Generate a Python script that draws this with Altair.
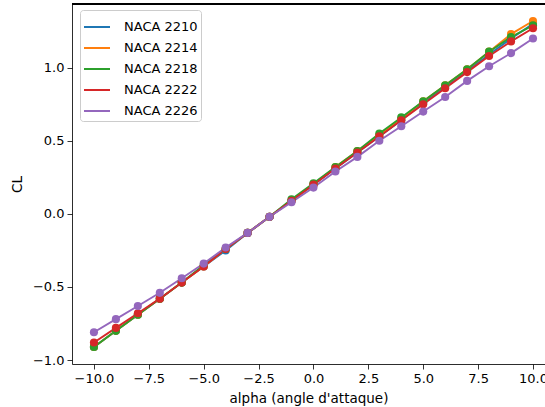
import altair as alt
import pandas as pd

alpha = [-10, -9, -8, -7, -6, -5, -4, -3, -2, -1, 0, 1, 2, 3, 4, 5, 6, 7, 8, 9, 10]

naca_2210 = [-0.91, -0.80, -0.69, -0.58, -0.47, -0.36, -0.25, -0.13, -0.02, 0.09, 0.20,
             0.31, 0.42, 0.53, 0.64, 0.76, 0.87, 0.98, 1.09, 1.20, 1.30]
naca_2214 = [-0.91, -0.80, -0.69, -0.58, -0.47, -0.36, -0.24, -0.13, -0.02, 0.09, 0.20,
             0.32, 0.43, 0.54, 0.65, 0.77, 0.88, 0.99, 1.11, 1.23, 1.32]
naca_2218 = [-0.91, -0.80, -0.69, -0.58, -0.47, -0.35, -0.24, -0.13, -0.02, 0.10, 0.21,
             0.32, 0.43, 0.55, 0.66, 0.77, 0.88, 0.99, 1.11, 1.21, 1.29]
naca_2222 = [-0.88, -0.78, -0.68, -0.58, -0.47, -0.36, -0.24, -0.13, -0.02, 0.09, 0.20,
             0.31, 0.42, 0.53, 0.64, 0.75, 0.86, 0.97, 1.08, 1.18, 1.27]
naca_2226 = [-0.81, -0.72, -0.63, -0.54, -0.44, -0.34, -0.23, -0.13, -0.02, 0.08, 0.18,
             0.29, 0.39, 0.50, 0.60, 0.70, 0.80, 0.91, 1.01, 1.10, 1.20]

series_names = ["NACA 2210", "NACA 2214", "NACA 2218", "NACA 2222", "NACA 2226"]
series_values = [naca_2210, naca_2214, naca_2218, naca_2222, naca_2226]
colors = ["#1f77b4", "#ff7f0e", "#2ca02c", "#d62728", "#9467bd"]

x_ticks = [-10.0, -7.5, -5.0, -2.5, 0.0, 2.5, 5.0, 7.5, 10.0]
y_ticks = [-1.0, -0.5, 0.0, 0.5, 1.0]

rows = []
for i, (name, vals) in enumerate(zip(series_names, series_values)):
    for a, v in zip(alpha, vals):
        rows.append({"alpha": a, "CL": v, "profil": name, "k": i})
df = pd.DataFrame(rows)

W, H = 473, 360
FONT = "DejaVu Sans"

x = alt.X("alpha:Q", title="alpha (angle d'attaque)",
          scale=alt.Scale(domain=[-11, 10.547], nice=False, zero=False),
          axis=alt.Axis(values=x_ticks, format=".1f", grid=False, tickSize=5,
                        tickWidth=0.8, tickColor="black", domainColor="black",
                        domainWidth=0.8, labelPadding=3, labelFontSize=13,
                        labelColor="black", titleFontSize=13.5, titleFontWeight="normal",
                        titleColor="black", titlePadding=6, labelFont=FONT,
                        titleFont=FONT, labelFlush=False))
y = alt.Y("CL:Q", title="CL",
          scale=alt.Scale(domain=[-1.027, 1.436], nice=False, zero=False),
          axis=alt.Axis(values=y_ticks, format=".1f", grid=False, tickSize=5,
                        tickWidth=0.8, tickColor="black", domainColor="black",
                        domainWidth=0.8, labelPadding=3, labelFontSize=13,
                        labelColor="black", titleFontSize=13.5, titleFontWeight="normal",
                        titleColor="black", titlePadding=8, labelFont=FONT,
                        titleFont=FONT, labelFlush=False))
color = alt.Color("profil:N", scale=alt.Scale(domain=series_names, range=colors),
                  legend=alt.Legend(title=None, orient="none", legendX=8, legendY=6,
                                    symbolType="stroke", symbolStrokeWidth=2,
                                    symbolSize=676, rowPadding=-9,
                                    labelFontSize=13, labelFont=FONT, labelColor="black",
                                    fillColor="white", strokeColor="#cccccc",
                                    cornerRadius=3, padding=3, labelOffset=13))

base = alt.Chart(df)
lines = base.mark_line(strokeWidth=1.9, clip=True).encode(
    x=x, y=y, color=color, detail="profil:N", order="alpha:Q")
points = base.mark_circle(size=66, opacity=1, clip=True).encode(
    x=x, y=y, color=alt.Color("profil:N", scale=alt.Scale(domain=series_names, range=colors), legend=None),
    order="k:Q")
top_spine = alt.Chart(df).mark_rule(color="black", strokeWidth=0.8).encode(
    x=alt.value(0), x2=alt.value(W), y=alt.value(0))

chart = alt.layer(lines, points, top_spine).properties(
    width=W, height=H,
    autosize=alt.AutoSizeParams(type="none"),
    padding={"left": 72, "top": 4, "right": 0, "bottom": 43},
).configure_view(stroke=None).configure(background="white")

chart.save("out.html", embed_options={"renderer": "svg", "actions": False})
